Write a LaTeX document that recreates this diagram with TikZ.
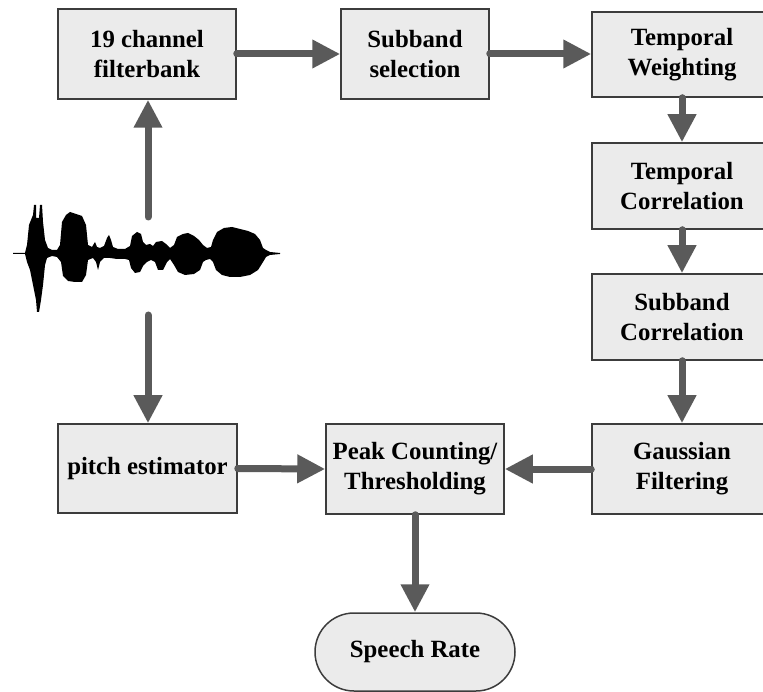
\documentclass[tikz,border=0pt]{standalone}
\usepackage{fontspec}
\setmainfont{Liberation Serif}
\usetikzlibrary{arrows.meta,shapes.misc}
\definecolor{boxfill}{HTML}{EBEBEB}
\definecolor{boxline}{HTML}{3C3C3C}
\definecolor{arrowgray}{HTML}{5A5A5A}
\begin{document}
\begin{tikzpicture}[x=1pt,y=-1pt,
  blk/.style={draw=boxline, fill=boxfill, line width=1.5pt, align=center, inner sep=0pt,
    font=\fontsize{24.8}{30}\selectfont\bfseries, text=black},
  arr/.style={draw=arrowgray, line width=7pt, line cap=round,
    -{Triangle[length=28pt,width=27pt]}}
]
\useasboundingbox (0,0) rectangle (763,692);
\clip (0,0) rectangle (763,692);

% boxes
\node[blk, minimum width=178pt, minimum height=90pt] (fb) at (147,54) {19 channel\\filterbank};
\node[blk, minimum width=148pt, minimum height=90pt] (ss) at (415,54) {Subband\\selection};
\node[blk, minimum width=180pt, minimum height=85pt] (tw) at (682,54.5) {Temporal\\Weighting};
\node[blk, minimum width=180pt, minimum height=86pt] (tc) at (682,186) {Temporal\\Correlation};
\node[blk, minimum width=180pt, minimum height=86pt] (sc) at (682,317) {Subband\\Correlation};
\node[blk, minimum width=180pt, minimum height=90pt] (gf) at (682,469) {Gaussian\\Filtering};
\node[blk, minimum width=178pt, minimum height=90pt] (pk) at (415,469) {Peak Counting/\\Thresholding};
\node[blk, minimum width=179pt, minimum height=89pt] (pe) at (147.5,468.5) {pitch estimator};
\node[blk, rounded rectangle, minimum width=200pt, minimum height=78pt] (sr) at (415,652) {Speech Rate};

% waveform
\draw[black, line width=1.2pt] (13,253.5) -- (280,253.5);
\fill[black] (13,253) -- (25,253) -- (27,245) -- (29,225) -- (33,215) -- (34,205) -- (36,205) -- (36,218) -- (39,218) -- (40,205) -- (42,205) -- (43,222) -- (45,240) -- (48,248) -- (52,250) -- (57,250) -- (60,245) -- (62,222) -- (66,215) -- (70,212) -- (76,214) -- (82,216) -- (86,225) -- (88,245) -- (92,247) -- (95,242) -- (97,247) -- (100,248) -- (104,246) -- (107,238) -- (109,235) -- (111,240) -- (113,247) -- (118,249) -- (125,249) -- (130,246) -- (132,236) -- (137,232) -- (141,234) -- (143,242) -- (146,245) -- (150,244) -- (153,246) -- (156,242) -- (162,241) -- (166,244) -- (170,248) -- (174,245) -- (177,237) -- (183,234) -- (188,233) -- (194,236) -- (199,240) -- (203,245) -- (207,248) -- (211,247) -- (213,240) -- (217,232) -- (224,228) -- (232,227) -- (240,229) -- (248,231) -- (255,234) -- (260,240) -- (263,248) -- (266,250) -- (270,252) -- (280,253)
 -- (280,254) -- (270,255) -- (266,257) -- (263,262) -- (258,270) -- (250,275) -- (240,277) -- (230,277) -- (222,275) -- (216,270) -- (213,262) -- (210,259) -- (206,260) -- (203,262) -- (200,270) -- (194,274) -- (185,275) -- (178,272) -- (174,265) -- (170,259) -- (167,262) -- (163,270) -- (158,270) -- (155,262) -- (151,260) -- (147,262) -- (143,266) -- (140,272) -- (135,273) -- (131,268) -- (129,260) -- (125,259) -- (117,259) -- (110,258) -- (104,258) -- (100,262) -- (98,270) -- (96,262) -- (93,258) -- (88,260) -- (86,275) -- (82,282) -- (75,282) -- (68,281) -- (63,276) -- (61,262) -- (57,257) -- (52,256) -- (47,258) -- (45,265) -- (43,285) -- (41,300) -- (39,312) -- (37,312) -- (36,300) -- (33,285) -- (30,270) -- (27,262) -- (25,254) -- (13,254) -- cycle;

\coordinate (wt) at (148,217);
\coordinate (wb) at (148,315);

% connectors
\draw[arr] (wt) -- (wt |- fb.south);
\draw[arr] (wb) -- (wb |- pe.north);
\draw[arr] (fb.east) -- (ss.west);
\draw[arr] (ss.east) -- (ss.east -| tw.west);
\draw[arr] (tw.south) -- (tc.north);
\draw[arr] (tc.south) -- (sc.north);
\draw[arr] (sc.south) -- (gf.north);
\draw[arr] (gf.west) -- (pk.east);
\draw[arr] (pe.east) -- (pk.west);
\draw[arr] (pk.south) -- (sr.north);
\end{tikzpicture}
\end{document}
